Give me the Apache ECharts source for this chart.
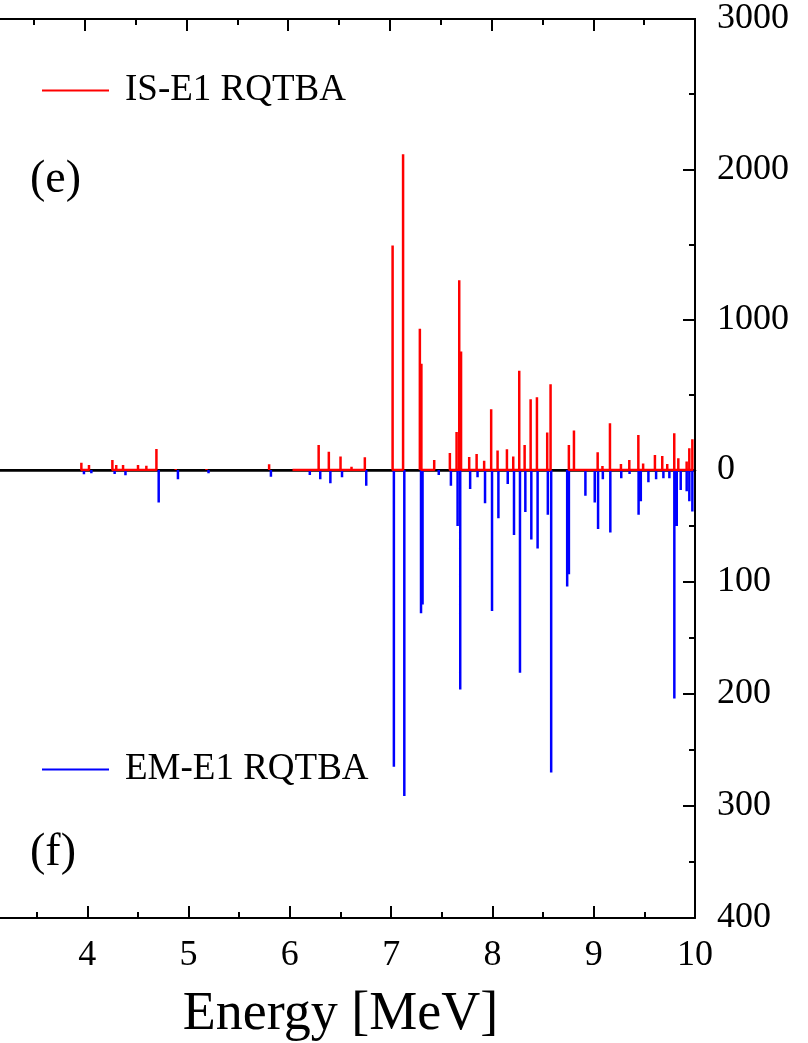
<!DOCTYPE html>
<html>
<head>
<meta charset="utf-8">
<script src="https://cdn.jsdelivr.net/npm/echarts@6/dist/echarts.min.js"></script>
<style>
  html, body { margin: 0; padding: 0; background: #fff; overflow: hidden; }
  /* the frame's left edge sits just outside the picture, so shift the chart left */
  #chart { position: absolute; left: -17px; top: 0; width: 825px; height: 1043px; }
</style>
</head>
<body>
<div id="chart"></div>
<script>
// IS-E1 strength (upper panel), energies in MeV
let isEnergy = [3.967, 4.042, 4.272, 4.31, 4.377, 4.524, 4.606, 4.705, 4.895, 5.197,
  5.813, 6.043, 6.154, 6.30, 6.40, 6.515, 6.623, 6.754, 7.027, 7.13,
  7.295, 7.31, 7.436, 7.59, 7.656, 7.682, 7.70, 7.78, 7.853, 7.927,
  7.996, 8.059, 8.151, 8.213, 8.272, 8.325, 8.384, 8.446, 8.547, 8.58,
  8.76, 8.81, 8.92, 9.043, 9.09, 9.164, 9.272, 9.354, 9.443, 9.49,
  9.606, 9.678, 9.727, 9.796, 9.836, 9.918, 9.944, 9.974]
let isStrength = [49, 33, 67, 33, 33, 33, 29, 140, 7, 7,
  38, 10, 10, 167, 122, 89, 22, 84, 1493, 2100,
  940, 707, 67, 113, 253, 1262, 789, 87, 107, 62,
  404, 129, 138, 89, 660, 167, 471, 484, 249, 571,
  167, 262, 10, 118, 27, 311, 40, 67, 233, 44,
  100, 93, 40, 244, 78, 56, 144, 204]

// EM-E1 strength (lower panel, drawn downwards)
let emEnergy = [3.967, 4.04, 4.27, 4.377, 4.705, 4.895, 5.197, 5.813, 6.197, 6.30,
  6.40, 6.515, 6.754, 7.027, 7.13, 7.295, 7.31, 7.47, 7.59, 7.656,
  7.682, 7.78, 7.853, 7.927, 7.996, 8.059, 8.151, 8.213, 8.272, 8.325,
  8.384, 8.446, 8.547, 8.58, 8.738, 8.755, 8.918, 9.01, 9.043, 9.09,
  9.164, 9.272, 9.354, 9.443, 9.465, 9.54, 9.616, 9.688, 9.747, 9.796,
  9.82, 9.859, 9.918, 9.944, 9.974]
let emStrength = [3.9, 3, 3.6, 4.7, 29, 8.3, 3, 6, 4.4, 8.3,
  11.9, 6.5, 14, 265, 291, 128, 120, 4.4, 14, 50,
  196, 17, 6.5, 29.6, 126, 43, 12.4, 58, 181, 37.6,
  62, 70, 40, 270, 104, 93, 23, 29, 52.7, 8.3,
  55.7, 7.4, 3.6, 40, 28, 11, 8.3, 7.4, 7.4, 204,
  50, 17.8, 19, 28, 37]

let xTicks = [3, 4, 5, 6, 7, 8, 9, 10]
let isTicks = [0, 1000, 2000, 3000]
let emTicks = [0, 100, 200, 300, 400]

var chart = echarts.init(document.getElementById('chart'))
chart.setOption(getOptions())

// spikes: [E,0] -> [E,S] -> [E,0], baseline kept if next line is close
function spikes(energy, strength, maxGap) {
  let out = []
  for (let i = 0; i < energy.length; i++) {
    out.push([energy[i], 0])
    out.push([energy[i], strength[i]])
    out.push([energy[i], 0])
    let next = energy[i + 1]
    if (next === undefined || next - energy[i] > maxGap) {
      out.push([energy[i], '-'])
    }
  }
  return out
}

function tick() {
  return { show: true, inside: true, length: 12, lineStyle: { color: '#000', width: 2 } }
}
function minor() {
  return { show: true, splitNumber: 2, length: 6, lineStyle: { color: '#000', width: 2 } }
}

function getOptions() {
  let font = 'Liberation Serif'
  let black = '#000'
  let gridRight = 113
  return {
    animation: false,
    backgroundColor: '#fff',
    textStyle: { fontFamily: font },
    grid: [
      { left: 0, right: gridRight, top: 19, height: 451, show: true, borderColor: black, borderWidth: 2, backgroundColor: 'transparent' },
      { left: 0, right: gridRight, top: 470, height: 450 }
    ],
    legend: [
      {
        data: ['IS-E1 RQTBA'], left: 54, top: 67, icon: 'rect',
        itemWidth: 67, itemHeight: 2,
        textStyle: { fontFamily: font, fontSize: 37, color: black, padding: [0, 0, 0, 11] }
      },
      {
        data: ['EM-E1 RQTBA'], left: 54, top: 746, icon: 'rect',
        itemWidth: 67, itemHeight: 2,
        textStyle: { fontFamily: font, fontSize: 37, color: black, padding: [0, 0, 0, 11] }
      }
    ],
    graphic: [
      { type: 'text', left: 47, top: 157, style: { text: '(e)', fontFamily: font, fontSize: 46, fill: black } },
      { type: 'text', left: 47, top: 830, style: { text: '(f)', fontFamily: font, fontSize: 46, fill: black } }
    ],
    xAxis: [
      {
        gridIndex: 0, type: 'value', position: 'top',
        min: xTicks[0], max: xTicks[xTicks.length - 1], interval: 1,
        axisLine: { show: true, onZero: false, lineStyle: { color: black, width: 2 } },
        axisTick: tick(), minorTick: minor(),
        axisLabel: { show: false },
        splitLine: { show: false }
      },
      {
        gridIndex: 0, type: 'value', position: 'bottom',
        min: xTicks[0], max: xTicks[xTicks.length - 1], interval: 1,
        axisLine: { show: true, onZero: false, lineStyle: { color: black, width: 2.5 } },
        axisTick: { show: false },
        axisLabel: { show: false },
        splitLine: { show: false }
      },
      {
        gridIndex: 1, type: 'value', position: 'bottom',
        min: xTicks[0], max: xTicks[xTicks.length - 1], interval: 1,
        name: 'Energy [MeV]', nameLocation: 'middle', nameGap: 70,
        nameTextStyle: { fontFamily: font, fontSize: 54, color: black },
        axisLine: { show: true, onZero: false, lineStyle: { color: black, width: 2 } },
        axisTick: tick(), minorTick: minor(),
        axisLabel: {
          fontFamily: font, fontSize: 36, color: black, margin: 20,
          formatter: v => (v === xTicks[0] ? '' : String(v))
        },
        splitLine: { show: false }
      }
    ],
    yAxis: [
      {
        gridIndex: 0, type: 'value', position: 'right',
        min: isTicks[0], max: isTicks[isTicks.length - 1], interval: 1000,
        axisLine: { show: true, onZero: false, lineStyle: { color: black, width: 2 } },
        axisTick: tick(), minorTick: minor(),
        axisLabel: { fontFamily: font, fontSize: 36, color: black, margin: 22, formatter: v => String(v) },
        splitLine: { show: false }
      },
      {
        gridIndex: 1, type: 'value', position: 'right', inverse: true,
        min: emTicks[0], max: emTicks[emTicks.length - 1], interval: 100,
        axisLine: { show: true, onZero: false, lineStyle: { color: black, width: 2 } },
        axisTick: tick(), minorTick: minor(),
        axisLabel: {
          fontFamily: font, fontSize: 36, color: black, margin: 22,
          formatter: v => (v === 0 ? '' : String(v))
        },
        splitLine: { show: false }
      }
    ],
    series: [
      {
        name: 'EM-E1 RQTBA', type: 'line', xAxisIndex: 2, yAxisIndex: 1,
        data: spikes(emEnergy, emStrength, 0),
        showSymbol: false, symbol: 'none', connectNulls: false,
        color: '#0000ff',
        lineStyle: { color: '#0000ff', width: 2.5 },
        z: 3
      },
      {
        name: 'IS-E1 RQTBA', type: 'line', xAxisIndex: 0, yAxisIndex: 0,
        data: spikes(isEnergy, isStrength, 0.15),
        showSymbol: false, symbol: 'none', connectNulls: false,
        color: '#ff0000',
        lineStyle: { color: '#ff0000', width: 2.5 },
        z: 5
      }
    ]
  }
}
</script>
</body>
</html>
